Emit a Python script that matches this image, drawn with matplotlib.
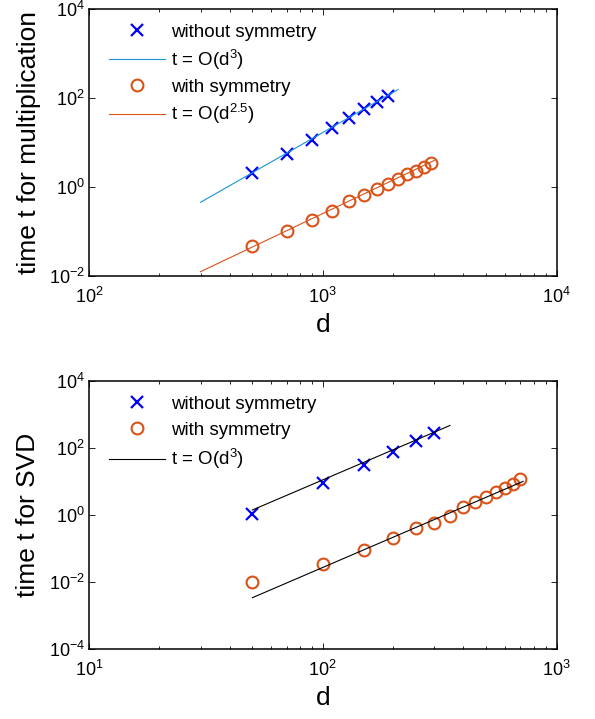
import numpy as np
import matplotlib
matplotlib.use("Agg")
import matplotlib.pyplot as plt
from matplotlib.ticker import LogLocator, NullLocator, NullFormatter

plt.rcParams['font.family'] = ['Liberation Sans', 'DejaVu Sans']
plt.rcParams['mathtext.fontset'] = 'custom'
plt.rcParams['mathtext.rm'] = 'Liberation Sans'
plt.rcParams['mathtext.it'] = 'Liberation Sans:italic'
plt.rcParams['mathtext.default'] = 'regular'

# ---- top panel: multiplication ----
mult_d_nosym = [500, 700, 900, 1100, 1300, 1500, 1700, 1900]
mult_t_nosym = [2.09, 5.5, 11.4, 21.5, 36, 55.7, 80, 112]
mult_d_sym = [500, 700, 900, 1100, 1300, 1500, 1700, 1900, 2100, 2300, 2500, 2700, 2900]
mult_t_sym = [0.047, 0.104, 0.181, 0.292, 0.477, 0.661, 0.90, 1.17, 1.51, 1.91, 2.29, 2.79, 3.52]
mult_fit3_d = [300, 2100]
mult_fit3_t = [0.453, 155]
mult_fit25_d = [300, 3000]
mult_fit25_t = [0.0125, 3.95]

# ---- bottom panel: SVD ----
svd_d_nosym = [50, 100, 150, 200, 250, 300]
svd_t_nosym = [1.05, 9.2, 31.7, 74.4, 158, 280]
svd_d_sym = [50, 100, 150, 200, 250, 300, 350, 400, 450, 500, 550, 600, 650, 700]
svd_t_sym = [0.0102, 0.0344, 0.0883, 0.210, 0.418, 0.565, 0.953, 1.77, 2.49,
             3.52, 4.86, 6.40, 8.41, 11.6]
svd_fit_a_d = [50, 350]
svd_fit_a_t = [1.41, 470]
svd_fit_b_d = [50, 720]
svd_fit_b_t = [0.0034, 10.1]

labels_top = ['without symmetry', 't = O(d$^{3}$)', 'with symmetry', 't = O(d$^{2.5}$)']
labels_bot = ['without symmetry', 'with symmetry', 't = O(d$^{3}$)']

BLUE = '#0000ff'
LBLUE = '#1a93d8'
RED = '#d95319'

W, H = 595, 719
fig = plt.figure(figsize=(W / 100, H / 100), dpi=100)

def px_axes(l, r, t, b):
    return fig.add_axes([l / W, 1 - b / H, (r - l) / W, (b - t) / H])

ax1 = px_axes(89, 556.5, 9, 276)
ax2 = px_axes(89, 556.5, 381, 649)

def style(ax, xlim, ylim, yticks):
    ax.set_xscale('log')
    ax.set_yscale('log')
    ax.set_xlim(*xlim)
    ax.set_ylim(*ylim)
    ax.set_yticks(yticks)
    ax.yaxis.set_minor_locator(NullLocator())
    ax.xaxis.set_major_locator(LogLocator(base=10, numticks=10))
    ax.xaxis.set_minor_locator(LogLocator(base=10, subs=np.arange(2, 10), numticks=20))
    ax.xaxis.set_minor_formatter(NullFormatter())
    ax.tick_params(which='both', direction='in', top=True, right=True,
                   labelsize=13, width=0.6, colors='black')
    ax.tick_params(which='major', length=4)
    ax.tick_params(which='minor', length=2.5)
    ax.tick_params(axis='x', which='major', pad=8)
    ax.tick_params(axis='y', which='major', pad=3)
    for s in ax.spines.values():
        s.set_linewidth(1.1)

ln1, = ax1.plot(mult_d_nosym, mult_t_nosym, linestyle='none', marker='x', color=BLUE,
                markersize=8, mew=1.6)
ln2, = ax1.plot(mult_fit3_d, mult_fit3_t, color=LBLUE, lw=0.8)
ln3, = ax1.plot(mult_d_sym, mult_t_sym, linestyle='none', marker='o', mfc='none',
                mec=RED, markersize=8.5, mew=1.5)
ln4, = ax1.plot(mult_fit25_d, mult_fit25_t, color=RED, lw=0.8)
style(ax1, (1e2, 1e4), (1e-2, 1e4), [1e-2, 1e0, 1e2, 1e4])
ax1.set_xlabel('d', fontsize=19, labelpad=4)
ax1.set_ylabel('time t for multiplication', fontsize=19, labelpad=6)
ax1.legend([ln1, ln2, ln3, ln4], labels_top, loc='upper left',
           bbox_to_anchor=(0.043, 0.945), frameon=False, fontsize=13.5,
           handlelength=3.0, handletextpad=0.3, labelspacing=0.36, borderpad=0,
           borderaxespad=0)

m1, = ax2.plot(svd_d_nosym, svd_t_nosym, linestyle='none', marker='x', color=BLUE,
               markersize=8, mew=1.6)
m2, = ax2.plot(svd_d_sym, svd_t_sym, linestyle='none', marker='o', mfc='none',
               mec=RED, markersize=8.5, mew=1.5)
f1, = ax2.plot(svd_fit_a_d, svd_fit_a_t, color='black', lw=0.8)
ax2.plot(svd_fit_b_d, svd_fit_b_t, color='black', lw=0.8)
style(ax2, (1e1, 1e3), (1e-4, 1e4), [1e-4, 1e-2, 1e0, 1e2, 1e4])
ax2.set_xlabel('d', fontsize=19, labelpad=4)
ax2.set_ylabel('time t for SVD', fontsize=19, labelpad=6)
ax2.legend([m1, m2, f1], labels_bot, loc='upper left',
           bbox_to_anchor=(0.043, 0.945), frameon=False, fontsize=13.5,
           handlelength=3.0, handletextpad=0.3, labelspacing=0.46, borderpad=0,
           borderaxespad=0)

fig.savefig('out.png', dpi=100)
